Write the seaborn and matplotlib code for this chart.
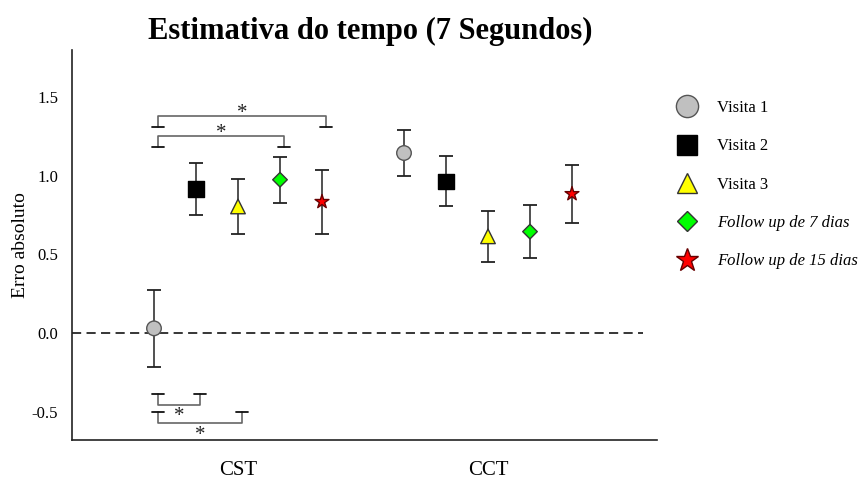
import numpy as np
import pandas as pd
import matplotlib
matplotlib.use("Agg")
import matplotlib.pyplot as plt
import seaborn as sns
from matplotlib.lines import Line2D

# ---- data ----
categories = ["CST", "CCT"]
series = ["Visita 1", "Visita 2", "Visita 3", "Follow up de 7 dias", "Follow up de 15 dias"]
means_cst = [0.03, 0.915, 0.805, 0.975, 0.835]
errs_cst = [0.245, 0.165, 0.175, 0.145, 0.205]
means_cct = [1.145, 0.965, 0.615, 0.645, 0.885]
errs_cct = [0.145, 0.16, 0.16, 0.17, 0.185]
yticks = [-0.5, 0.0, 0.5, 1.0, 1.5]
# significance comparisons: (category index, series i, series j, bracket level, side)
comparisons = [
    (0, 0, 4, 1.38, "top"),
    (0, 0, 3, 1.25, "top"),
    (0, 0, 1, -0.455, "bottom"),
    (0, 0, 2, -0.575, "bottom"),
]

# ---- styling ----
colors = ["#c0c0c0", "#000000", "#ffff00", "#00ff00", "#ff0000"]
edges = ["#555555", "#000000", "#333333", "#333333", "#660000"]
markers = ["o", "s", "^", "D", "*"]
msizes = [110, 125, 110, 55, 110]
leg_ms = [16, 14, 14, 10, 17]
spacing = 0.168

sns.set_theme(style="white")
plt.rcParams["font.family"] = ["Liberation Serif", "DejaVu Serif"]
for key in ["text.color", "axes.labelcolor", "xtick.color", "ytick.color"]:
    plt.rcParams[key] = "black"

rows = []
for ci, (m, e) in enumerate([(means_cst, errs_cst), (means_cct, errs_cct)]):
    for si, s in enumerate(series):
        rows.append({"cat": categories[ci], "ci": ci, "series": s, "si": si,
                     "x": ci + (si - 2) * spacing, "mean": m[si], "err": e[si]})
df = pd.DataFrame(rows)

fig = plt.figure(figsize=(8.6, 4.79), dpi=100)
ax = fig.add_axes([72 / 860, 1 - 440 / 479, (657 - 72) / 860, (440 - 50) / 479])

ax.axhline(0, xmin=0, xmax=(643 - 72) / (657 - 72), color="black", lw=1.1, ls=(0, (6, 3.5)), zorder=1)

for _, r in df.iterrows():
    ax.errorbar(r["x"], r["mean"], yerr=r["err"], fmt="none", ecolor="#222222",
                elinewidth=1.1, capsize=5, capthick=1.3, zorder=2)

sns.scatterplot(data=df, x="x", y="mean", hue="series", style="series", size="series",
                palette=dict(zip(series, colors)), markers=dict(zip(series, markers)),
                sizes=dict(zip(series, msizes)), legend=False, ax=ax, zorder=3,
                linewidth=1.0)
# edge colours per series
lc = [c.lower() for c in colors]
for coll in ax.collections:
    fcs = coll.get_facecolors()
    if len(fcs):
        ecs = []
        for fc in fcs:
            hexc = matplotlib.colors.to_hex(fc)
            idx = lc.index(hexc) if hexc in lc else 1
            ecs.append(edges[idx])
        coll.set_edgecolors(ecs)

# significance brackets
cap_half = 0.024
for ci, i, j, lvl, side in comparisons:
    x1 = ci + (i - 2) * spacing + 0.015
    x2 = ci + (j - 2) * spacing + 0.015
    d = 0.07 if side == "top" else -0.07
    end = lvl - d
    ax.plot([x1, x1, x2, x2], [end, lvl, lvl, end], color="#666666", lw=1.2, zorder=2)
    for xx in (x1, x2):
        ax.plot([xx - cap_half, xx + cap_half], [end, end], color="#111111", lw=1.3, zorder=2)
    sy = lvl - 0.012 if side == "top" else lvl - 0.105
    ax.text((x1 + x2) / 2, sy, "*", ha="center", va="baseline", fontsize=15, color="#222222")

ax.set_xlim(-0.664, 1.676)
ax.set_ylim(-0.68, 1.80)
ax.set_xticks([0, 1])
ax.set_xticklabels(categories, fontsize=15)
ax.set_yticks(yticks)
ax.set_yticklabels([f"{v:.1f}" for v in yticks], fontsize=12)
ax.tick_params(axis="both", length=0)
ax.tick_params(axis="y", pad=10)
ax.tick_params(axis="x", pad=15)
ax.set_xlabel("")
ax.set_ylabel("Erro absoluto", fontsize=14, labelpad=2)
for sp in ["top", "right"]:
    ax.spines[sp].set_visible(False)
for sp in ["left", "bottom"]:
    ax.spines[sp].set_color("#222222")
    ax.spines[sp].set_linewidth(1.2)

fig.text(370 / 860, 1 - 31 / 479, "Estimativa do tempo (7 Segundos)", ha="center", va="center",
         fontsize=22, fontweight="bold")

handles = [Line2D([], [], ls="none", marker=markers[k], markersize=leg_ms[k],
                  markerfacecolor=colors[k], markeredgecolor=edges[k], markeredgewidth=1.0)
           for k in range(5)]
leg = fig.legend(handles, series, loc="upper left", bbox_to_anchor=(0.772, 0.805),
                 frameon=False, fontsize=12, labelspacing=1.34, handlelength=2.0,
                 handletextpad=0.8, borderaxespad=0)
for t in leg.get_texts()[3:]:
    t.set_fontstyle("italic")

fig.savefig("out.png", dpi=100)
